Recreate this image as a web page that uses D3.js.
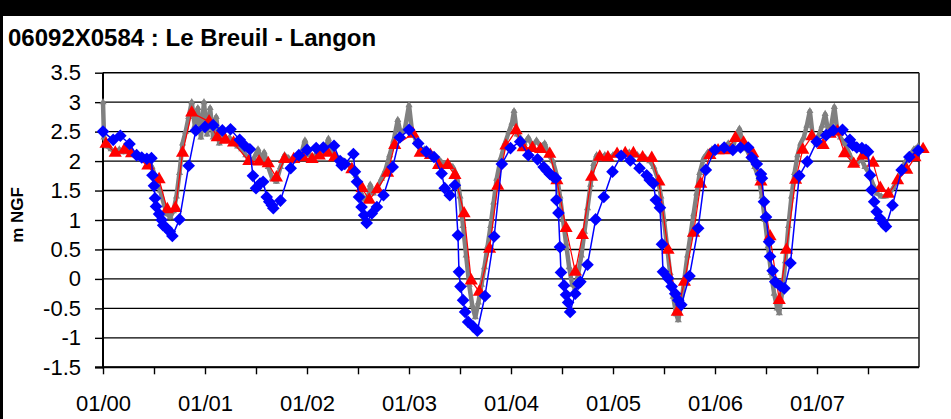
<!DOCTYPE html>
<html>
<head>
<meta charset="utf-8">
<script src="https://cdn.jsdelivr.net/npm/d3@7"></script>
<style>
  body { margin: 0; background: #fff; }
  svg { display: block; font-family: "Liberation Sans", Arial, sans-serif; }
</style>
</head>
<body>
<div id="chart"></div>
<script>
// decimal year -> level (m NGF)
const title = '06092X0584 : Le Breuil - Langon';
const yTicks = [-1.5, -1, -0.5, 0, 0.5, 1, 1.5, 2, 2.5, 3, 3.5];
const xTicks = [2000, 2000.5, 2001, 2001.5, 2002, 2002.5, 2003, 2003.5, 2004, 2004.5,
                2005, 2005.5, 2006, 2006.5, 2007, 2007.5];
const xLabels = {2000: '01/00', 2001: '01/01', 2002: '01/02', 2003: '01/03',
                 2004: '01/04', 2005: '01/05', 2006: '01/06', 2007: '01/07'};

// dense measurements (grey)
const grey = [
  [2000.00,3.00],[2000.01,2.40],[2000.04,2.25],[2000.08,2.20],[2000.12,2.15],[2000.16,2.20],
  [2000.20,2.15],[2000.24,2.18],[2000.28,2.12],[2000.32,2.10],[2000.36,2.08],[2000.40,2.05],
  [2000.44,2.00],[2000.48,1.90],[2000.52,1.70],[2000.56,1.50],[2000.60,1.25],[2000.63,1.10],
  [2000.66,1.05],[2000.69,1.15],[2000.72,1.40],[2000.75,1.80],[2000.78,2.30],[2000.81,2.50],
  [2000.84,2.75],[2000.87,3.00],[2000.90,2.60],[2000.93,2.90],[2000.96,2.40],[2000.99,3.00],
  [2001.02,2.45],[2001.05,2.90],[2001.08,2.40],[2001.11,2.75],[2001.14,2.30],[2001.17,2.55],
  [2001.20,2.35],[2001.24,2.40],[2001.28,2.30],[2001.32,2.25],[2001.36,2.20],[2001.40,2.10],
  [2001.44,2.00],[2001.48,2.05],[2001.52,2.20],[2001.55,2.00],[2001.58,2.15],[2001.62,1.90],
  [2001.66,1.70],[2001.70,1.65],[2001.74,1.90],[2001.78,2.10],[2001.82,2.05],[2001.86,2.00],
  [2001.90,2.05],[2001.94,2.10],[2001.98,2.35],[2002.02,2.10],[2002.06,2.05],[2002.10,2.15],
  [2002.14,2.15],[2002.18,2.20],[2002.21,2.38],[2002.24,2.15],[2002.28,2.10],[2002.32,2.00],
  [2002.36,2.00],[2002.40,1.95],[2002.44,1.90],[2002.48,1.75],[2002.52,1.50],[2002.56,1.35],
  [2002.60,1.40],[2002.62,1.60],[2002.65,1.45],[2002.69,1.55],[2002.73,1.70],[2002.77,1.85],
  [2002.81,2.10],[2002.85,2.35],[2002.89,2.70],[2002.92,2.45],[2002.96,2.55],[2003.00,2.95],
  [2003.03,2.50],[2003.07,2.35],[2003.11,2.20],[2003.15,2.20],[2003.19,2.15],[2003.23,2.10],
  [2003.27,2.05],[2003.31,2.00],[2003.35,1.95],[2003.39,1.95],[2003.43,1.90],[2003.47,1.75],
  [2003.50,1.40],[2003.53,0.90],[2003.56,0.40],[2003.59,-0.10],[2003.62,-0.45],[2003.65,-0.65],
  [2003.68,-0.40],[2003.71,-0.10],[2003.74,0.20],[2003.77,0.55],[2003.80,0.90],[2003.83,1.30],
  [2003.86,1.70],[2003.90,2.05],[2003.94,2.30],[2003.98,2.50],[2004.01,2.65],[2004.03,2.85],
  [2004.06,2.45],[2004.09,2.40],[2004.13,2.30],[2004.17,2.40],[2004.21,2.25],[2004.25,2.35],
  [2004.29,2.25],[2004.33,2.30],[2004.37,2.10],[2004.41,2.00],[2004.45,1.75],[2004.48,1.40],
  [2004.51,1.00],[2004.54,0.60],[2004.57,0.20],[2004.60,-0.10],[2004.63,-0.15],[2004.66,0.10],
  [2004.69,0.40],[2004.72,0.80],[2004.75,1.20],[2004.78,1.60],[2004.81,1.95],[2004.84,2.10],
  [2004.88,2.05],[2004.92,2.10],[2004.96,2.05],[2005.00,2.10],[2005.04,2.15],[2005.08,2.10],
  [2005.12,2.15],[2005.16,2.15],[2005.20,2.10],[2005.24,2.10],[2005.28,2.05],[2005.32,2.05],
  [2005.36,2.00],[2005.40,1.90],[2005.44,1.70],[2005.47,1.40],[2005.50,1.00],[2005.53,0.55],
  [2005.56,0.10],[2005.59,-0.30],[2005.62,-0.60],[2005.64,-0.70],[2005.67,-0.40],[2005.70,0.00],
  [2005.73,0.40],[2005.76,0.75],[2005.79,1.10],[2005.82,1.45],[2005.85,1.80],[2005.89,2.05],
  [2005.93,2.15],[2005.97,2.20],[2006.01,2.15],[2006.05,2.20],[2006.09,2.25],[2006.13,2.30],
  [2006.17,2.20],[2006.21,2.45],[2006.24,2.55],[2006.27,2.30],[2006.31,2.20],[2006.35,2.05],
  [2006.39,1.90],[2006.43,1.70],[2006.46,1.40],[2006.49,1.00],[2006.52,0.55],[2006.55,0.10],
  [2006.58,-0.25],[2006.61,-0.50],[2006.63,-0.58],[2006.66,-0.20],[2006.69,0.30],[2006.72,0.90],
  [2006.75,1.40],[2006.78,1.80],[2006.81,2.10],[2006.84,2.30],[2006.87,2.40],[2006.90,2.60],
  [2006.93,2.85],[2006.96,2.40],[2006.99,2.30],[2007.02,2.45],[2007.05,2.60],[2007.08,2.80],
  [2007.11,2.50],[2007.14,2.60],[2007.17,2.92],[2007.20,2.50],[2007.23,2.40],[2007.27,2.30],
  [2007.31,2.15],[2007.35,2.00],[2007.39,1.95],[2007.43,2.05],[2007.47,1.90],[2007.51,1.80],
  [2007.55,1.60],[2007.59,1.45],[2007.63,1.40],[2007.67,1.40],[2007.71,1.45],[2007.75,1.55],
  [2007.79,1.70],[2007.83,1.85],[2007.87,2.00],[2007.91,2.10],[2007.95,2.20],[2007.99,2.25]
];

// monthly readings (red triangles)
const red = [
  [2000.03,2.29],[2000.12,2.14],[2000.21,2.19],[2000.28,2.13],[2000.44,1.92],[2000.55,1.69],
  [2000.63,1.18],[2000.71,1.20],[2000.78,2.14],[2000.87,2.82],[2001.04,2.67],[2001.12,2.40],
  [2001.20,2.36],[2001.28,2.31],[2001.43,2.00],[2001.53,1.99],[2001.62,1.96],[2001.70,1.72],
  [2001.78,2.03],[2001.87,2.03],[2001.96,2.06],[2002.05,2.03],[2002.12,2.09],[2002.20,2.14],
  [2002.27,2.06],[2002.44,1.86],[2002.54,1.54],[2002.61,1.34],[2002.69,1.52],[2002.79,1.80],
  [2002.86,2.27],[2003.04,2.46],[2003.11,2.14],[2003.21,2.10],[2003.29,1.93],[2003.38,1.93],
  [2003.45,1.76],[2003.54,1.11],[2003.61,-0.03],[2003.69,-0.22],[2003.79,0.51],[2003.87,1.58],
  [2003.95,2.26],[2004.05,2.52],[2004.12,2.23],[2004.21,2.22],[2004.29,2.20],[2004.38,2.12],
  [2004.45,1.67],[2004.54,0.86],[2004.63,0.12],[2004.70,0.74],[2004.79,1.73],[2004.87,2.07],
  [2004.95,2.06],[2005.04,2.12],[2005.12,2.13],[2005.20,2.13],[2005.29,2.06],[2005.38,2.05],
  [2005.45,1.65],[2005.54,0.49],[2005.63,-0.56],[2005.70,-0.05],[2005.79,0.78],[2005.86,1.61],
  [2005.95,2.10],[2006.03,2.18],[2006.11,2.18],[2006.20,2.39],[2006.28,2.31],[2006.37,2.13],
  [2006.45,1.65],[2006.54,0.72],[2006.63,-0.36],[2006.70,0.49],[2006.79,1.68],[2006.86,2.19],
  [2006.95,2.42],[2007.06,2.27],[2007.13,2.46],[2007.20,2.50],[2007.27,2.13],[2007.36,1.95],
  [2007.45,2.09],[2007.55,1.97],[2007.62,1.54],[2007.70,1.44],[2007.79,1.67],[2007.88,1.85],
  [2007.96,2.06],[2008.04,2.20]
];

// second piezometer readings (blue diamonds)
const blue = [
  [2000.00,2.50],[2000.10,2.36],[2000.17,2.43],[2000.26,2.29],[2000.33,2.10],[2000.38,2.06],
  [2000.43,2.04],[2000.475,2.05],[2000.485,1.76],[2000.50,1.58],[2000.51,1.37],[2000.52,1.23],
  [2000.55,1.10],[2000.575,1.00],[2000.59,0.91],[2000.625,0.86],[2000.655,0.80],[2000.68,0.73],
  [2000.75,1.01],[2000.84,1.92],[2000.91,2.52],[2001.00,2.58],[2001.08,2.61],[2001.17,2.52],
  [2001.25,2.54],[2001.34,2.36],[2001.39,2.26],[2001.44,2.20],[2001.47,1.75],[2001.50,1.54],
  [2001.54,1.62],[2001.57,1.65],[2001.605,1.39],[2001.63,1.31],[2001.655,1.25],[2001.67,1.20],
  [2001.74,1.33],[2001.84,1.88],[2001.92,2.10],[2002.00,2.19],[2002.09,2.22],[2002.16,2.23],
  [2002.265,2.26],[2002.325,2.00],[2002.34,1.93],[2002.37,1.95],[2002.455,2.12],[2002.47,1.82],
  [2002.49,1.65],[2002.51,1.39],[2002.535,1.22],[2002.56,1.08],[2002.585,0.95],[2002.635,1.11],
  [2002.685,1.22],[2002.75,1.42],[2002.84,1.90],[2002.91,2.40],[2003.00,2.53],[2003.09,2.30],
  [2003.17,2.16],[2003.245,2.07],[2003.32,1.79],[2003.35,1.54],[2003.40,1.42],[2003.45,1.59],
  [2003.48,0.74],[2003.49,0.12],[2003.505,-0.13],[2003.53,-0.36],[2003.55,-0.56],[2003.58,-0.73],
  [2003.63,-0.81],[2003.67,-0.88],[2003.745,-0.29],[2003.835,0.72],[2003.91,1.95],[2003.995,2.22],
  [2004.09,2.33],[2004.17,2.10],[2004.26,2.03],[2004.32,1.90],[2004.35,1.84],[2004.38,1.78],
  [2004.415,1.73],[2004.44,1.71],[2004.445,1.34],[2004.465,1.12],[2004.48,0.54],[2004.49,0.11],
  [2004.52,-0.11],[2004.54,-0.27],[2004.56,-0.40],[2004.58,-0.56],[2004.63,-0.25],[2004.66,-0.08],
  [2004.68,-0.05],[2004.75,0.24],[2004.83,1.01],[2004.91,1.39],[2004.995,1.82],[2005.08,2.09],
  [2005.17,2.01],[2005.26,1.88],[2005.33,1.76],[2005.36,1.68],[2005.395,1.62],[2005.42,1.34],
  [2005.46,1.21],[2005.48,0.59],[2005.49,0.12],[2005.54,0.01],[2005.575,-0.13],[2005.61,-0.25],
  [2005.64,-0.36],[2005.67,-0.44],[2005.75,0.05],[2005.835,0.86],[2005.91,1.85],[2006.00,2.19],
  [2006.09,2.23],[2006.175,2.19],[2006.25,2.23],[2006.325,2.23],[2006.36,2.06],[2006.41,1.95],
  [2006.45,1.78],[2006.46,1.71],[2006.48,1.31],[2006.50,1.05],[2006.53,0.63],[2006.54,0.38],
  [2006.565,0.14],[2006.59,-0.05],[2006.64,-0.12],[2006.68,-0.16],[2006.74,0.27],[2006.826,1.75],
  [2006.905,1.99],[2006.997,2.33],[2007.09,2.44],[2007.16,2.52],[2007.25,2.53],[2007.323,2.36],
  [2007.35,2.27],[2007.39,2.23],[2007.44,2.22],[2007.48,2.19],[2007.50,2.16],[2007.52,1.76],
  [2007.535,1.51],[2007.56,1.31],[2007.585,1.14],[2007.617,1.03],[2007.65,0.94],[2007.676,0.89],
  [2007.74,1.25],[2007.83,1.85],[2007.905,2.07],[2007.993,2.18]
];

const W = 951, H = 419;
const pLeft = 103, pRight = 919, pTop = 72.7, pBottom = 367.3;

const x = d3.scaleLinear().domain([2000, 2008]).range([pLeft, pRight]);
const y = d3.scaleLinear().domain([-1.5, 3.5]).range([pBottom, pTop]);

const svg = d3.select('#chart').append('svg')
    .attr('width', W).attr('height', H);

svg.append('rect').attr('width', W).attr('height', H).attr('fill', '#fff');
// black frame bits of the original window
svg.append('rect').attr('width', W).attr('height', 16).attr('fill', '#000');
svg.append('rect').attr('width', 3).attr('height', H).attr('fill', '#000');

svg.append('text')
    .attr('x', 8).attr('y', 46)
    .attr('font-size', 24).attr('font-weight', 'bold')
    .text(title);

// gridlines
svg.append('g')
    .selectAll('line')
    .data(yTicks)
  .enter().append('line')
    .attr('x1', pLeft).attr('x2', pRight)
    .attr('y1', d => y(d)).attr('y2', d => y(d))
    .attr('stroke', '#000').attr('stroke-width', 1.4);

svg.append('line')
    .attr('x1', pRight).attr('x2', pRight).attr('y1', pTop).attr('y2', pBottom)
    .attr('stroke', '#222').attr('stroke-width', 1.6);

// axes
let ya = svg.append('g')
    .attr('transform', `translate(${pLeft},0)`)
    .call(d3.axisLeft(y).tickValues(yTicks).tickSize(8).tickPadding(14)
        .tickFormat(d => String(d)));
ya.select('.domain').remove();
ya.selectAll('line').attr('stroke', '#000').attr('stroke-width', 1.4);
ya.selectAll('text').attr('font-size', 22).attr('fill', '#000')
    .attr('font-family', '"Liberation Sans", Arial, sans-serif');

let xa = svg.append('g')
    .attr('transform', `translate(0,${pBottom})`)
    .call(d3.axisBottom(x).tickValues(xTicks).tickSize(7).tickPadding(21.4)
        .tickFormat(d => xLabels[d] || ''));
xa.select('.domain').remove();
xa.selectAll('line').attr('stroke', '#000').attr('stroke-width', 1.4);
xa.selectAll('text').attr('font-size', 22).attr('fill', '#000')
    .attr('font-family', '"Liberation Sans", Arial, sans-serif');

svg.append('line')
    .attr('x1', pLeft).attr('x2', pLeft).attr('y1', pTop).attr('y2', pBottom + 1)
    .attr('stroke', '#000').attr('stroke-width', 2);
svg.append('line')
    .attr('x1', pLeft - 8).attr('x2', pRight).attr('y1', pBottom).attr('y2', pBottom)
    .attr('stroke', '#000').attr('stroke-width', 2);

svg.append('text')
    .attr('transform', 'translate(23,215) rotate(-90)')
    .attr('text-anchor', 'middle')
    .attr('font-size', 17).attr('font-weight', 'bold')
    .text('m NGF');

// series
const line = d3.line().x(d => x(d[0])).y(d => y(d[1]));

function series(data, colour, width, sym, size, rot) {
    let g = svg.append('g');
    g.append('path')
        .attr('d', line(data))
        .attr('fill', 'none')
        .attr('stroke', colour)
        .attr('stroke-width', width)
        .attr('stroke-linejoin', 'round');
    g.selectAll('path.mark')
        .data(data)
      .enter().append('path')
        .attr('class', 'mark')
        .attr('d', d3.symbol().type(sym).size(size))
        .attr('transform', d => `translate(${x(d[0])},${y(d[1])}) rotate(${rot})`)
        .attr('fill', colour);
}

series(grey, '#808080', 4.5, d3.symbolTriangle, 22, 0);
series(red, '#ff0000', 1.2, d3.symbolTriangle, 75, 0);
series(blue, '#0000ff', 1.5, d3.symbolSquare, 80, 45);
</script>
</body>
</html>
